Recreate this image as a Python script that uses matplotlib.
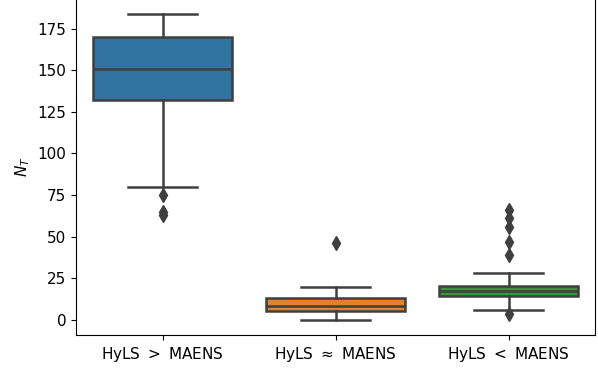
import matplotlib
matplotlib.use("Agg")
import matplotlib.pyplot as plt

# ===== DATA =====
categories = ["HyLS $>$ MAENS", "HyLS $\\approx$ MAENS", "HyLS $<$ MAENS"]
medians = [151, 8.4, 17.4]
q1s = [132, 5, 14]
q3s = [170, 13.2, 20.4]
whis_lo = [80, 0, 6]
whis_hi = [184, 19.4, 28]
fliers = [
    [75, 65, 63],
    [46],
    [66, 61, 56, 47, 39, 3.6],
]
colors = ["#3274a1", "#e1812c", "#3a923a"]

stats = []
for i, name in enumerate(categories):
    stats.append(dict(label=name, med=medians[i], q1=q1s[i], q3=q3s[i],
                      whislo=whis_lo[i], whishi=whis_hi[i], fliers=fliers[i]))

plt.rcParams["font.size"] = 11

fig = plt.figure(figsize=(5.98, 3.68), dpi=100)
ax = fig.add_axes([76 / 598, 33 / 368, 519 / 598, 1 - 33 / 368 + 0.004])

line_col = "#3f3f3f"
lw = 1.8
bp = ax.bxp(stats, positions=range(3), widths=0.8, patch_artist=True,
            boxprops=dict(edgecolor=line_col, linewidth=lw),
            medianprops=dict(color=line_col, linewidth=lw),
            whiskerprops=dict(color=line_col, linewidth=lw),
            capprops=dict(color=line_col, linewidth=lw),
            flierprops=dict(marker="d", markersize=7, markerfacecolor=line_col,
                            markeredgecolor=line_col),
            capwidths=0.4)
for patch, c in zip(bp["boxes"], colors):
    patch.set_facecolor(c)

ax.set_xlim(-0.5, 2.5)
ax.set_ylim(-9.2, 193.2)
ax.set_yticks([0, 25, 50, 75, 100, 125, 150, 175])
ax.set_xticks(range(3))
ax.set_xticklabels(categories)
ax.set_ylabel("$N_T$")

fig.savefig("out.png")
